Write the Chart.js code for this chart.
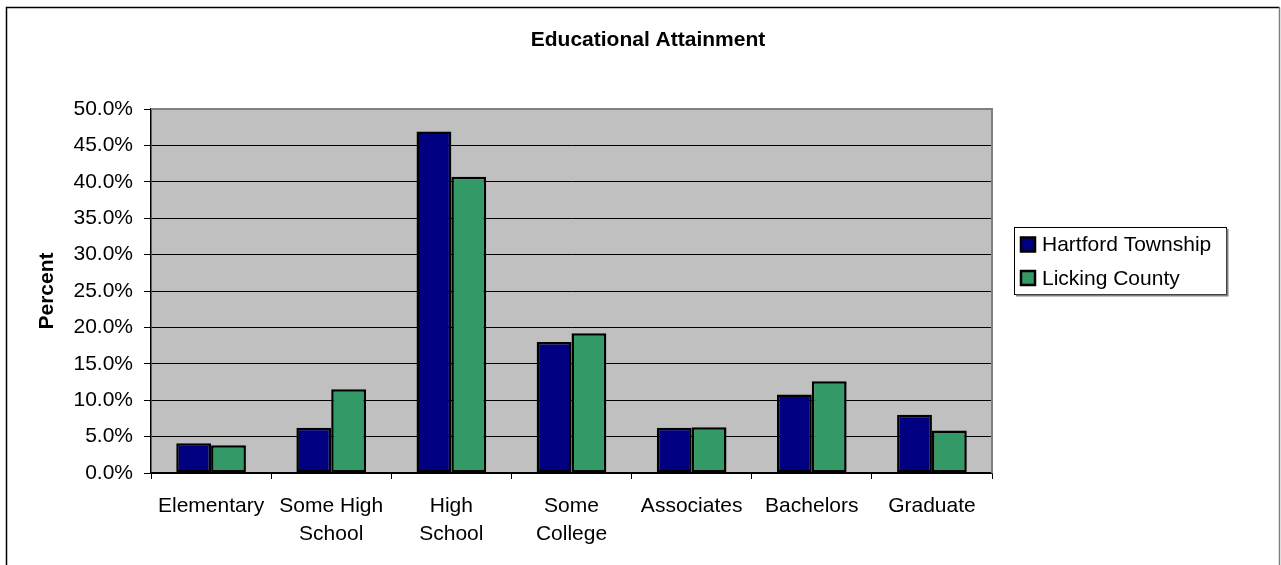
<!DOCTYPE html>
<html>
<head>
  <title>Educational Attainment</title>
  <script src="https://cdn.jsdelivr.net/npm/chart.js"></script>
  <style>
    html, body { margin: 0; padding: 0; background: #fff; }
    #wrap { width: 1281px; height: 565px; position: relative; }
  </style>
</head>
<body>
  <div id="wrap"><canvas id="eduChart" width="1281" height="565"></canvas></div>

  <script>
    const categories = ['Elementary', ['Some High', 'School'], ['High', 'School'], ['Some', 'College'], 'Associates', 'Bachelors', 'Graduate'];
    const hartford = [4.1, 6.2, 46.9, 18.0, 6.2, 10.8, 8.0];
    const licking = [3.8, 11.5, 40.7, 19.2, 6.3, 12.6, 5.85];
    const yTicks = { min: 0, max: 50, step: 5 };

    const FONT = "'Liberation Sans', Arial, sans-serif";

    // grey plot background, outer frame, title and boxed legend
    const decor = {
      id: 'decor',
      beforeDraw(chart) {
        const { ctx, chartArea: a } = chart;
        ctx.save();
        ctx.fillStyle = '#fff';
        ctx.fillRect(0, 0, chart.width, chart.height);
        ctx.fillStyle = '#c0c0c0';
        ctx.fillRect(a.left, a.top, a.right - a.left, a.bottom - a.top);
        ctx.restore();
      },
      afterDraw(chart) {
        const { ctx, chartArea: a } = chart;
        ctx.save();
        // plot border top / right
        ctx.strokeStyle = '#808080';
        ctx.lineWidth = 2;
        ctx.beginPath();
        ctx.moveTo(a.left, a.top);
        ctx.lineTo(a.right, a.top);
        ctx.lineTo(a.right, a.bottom);
        ctx.stroke();

        // outer frame
        ctx.strokeStyle = '#000';
        ctx.lineWidth = 1.5;
        ctx.beginPath();
        ctx.moveTo(6.5, chart.height);
        ctx.lineTo(6.5, 7.5);
        ctx.lineTo(1279.5, 7.5);
        ctx.stroke();
        ctx.strokeStyle = '#808080';
        ctx.beginPath();
        ctx.moveTo(1279.5, 7.5);
        ctx.lineTo(1279.5, chart.height);
        ctx.stroke();

        // title
        ctx.fillStyle = '#000';
        ctx.font = 'bold 21px ' + FONT;
        ctx.textAlign = 'center';
        ctx.textBaseline = 'middle';
        ctx.fillText('Educational Attainment', 648, 40);

        // legend
        const lx = 1014, ly = 227, lw = 212, lh = 67;
        ctx.strokeStyle = '#000';
        ctx.lineWidth = 1;
        ctx.strokeRect(lx + 0.5, ly + 0.5, lw, lh);
        ctx.strokeStyle = '#808080';
        ctx.lineWidth = 2;
        ctx.beginPath();
        ctx.moveTo(lx + lw + 1.5, ly + 2);
        ctx.lineTo(lx + lw + 1.5, ly + lh + 1.5);
        ctx.lineTo(lx + 2, ly + lh + 1.5);
        ctx.stroke();

        ctx.font = '21px ' + FONT;
        ctx.textAlign = 'left';
        chart.data.datasets.forEach((ds, i) => {
          const cy = 244.5 + i * 33.5;
          ctx.fillStyle = ds.backgroundColor;
          ctx.fillRect(lx + 7, cy - 7, 14, 14);
          ctx.strokeStyle = '#000';
          ctx.lineWidth = 2.5;
          ctx.strokeRect(lx + 7, cy - 7, 14, 14);
          ctx.fillStyle = '#000';
          ctx.fillText(ds.label, lx + 28, cy + 1);
        });
        ctx.restore();
      }
    };

    new Chart(document.getElementById('eduChart'), {
      type: 'bar',
      data: {
        labels: categories,
        datasets: [
          {
            label: 'Hartford Township',
            data: hartford,
            backgroundColor: '#000080',
            borderColor: '#000',
            borderWidth: 2.5,
            borderSkipped: false
          },
          {
            label: 'Licking County',
            data: licking,
            backgroundColor: '#339966',
            borderColor: '#000',
            borderWidth: 2.5,
            borderSkipped: false
          }
        ]
      },
      options: {
        responsive: false,
        animation: false,
        layout: { padding: { left: 0, right: 289, top: 109, bottom: 0 } },
        datasets: { bar: { categoryPercentage: 0.58, barPercentage: 1 } },
        plugins: {
          legend: { display: false },
          tooltip: { enabled: false }
        },
        scales: {
          x: {
            grid: { drawOnChartArea: false, drawTicks: true, tickLength: 6, color: '#000', offset: true },
            border: { color: '#000', width: 1.5 },
            ticks: { color: '#000', padding: 14, font: { family: FONT, size: 21, lineHeight: 1.3 }, maxRotation: 0, autoSkip: false },
            afterFit(s) { s.height = 92; }
          },
          y: {
            min: yTicks.min,
            max: yTicks.max,
            grid: { color: '#000', tickLength: 7, lineWidth: 1 },
            border: { color: '#000', width: 1.5 },
            ticks: {
              stepSize: yTicks.step,
              color: '#000',
              padding: 11,
              font: { family: FONT, size: 21 },
              callback: v => v.toFixed(1) + '%'
            },
            title: {
              display: true,
              text: 'Percent',
              color: '#000',
              font: { family: FONT, size: 21, weight: 'bold' },
              padding: { top: 35 }
            },
            afterFit(s) { s.width = 151; }
          }
        }
      },
      plugins: [decor]
    });
  </script>
</body>
</html>
